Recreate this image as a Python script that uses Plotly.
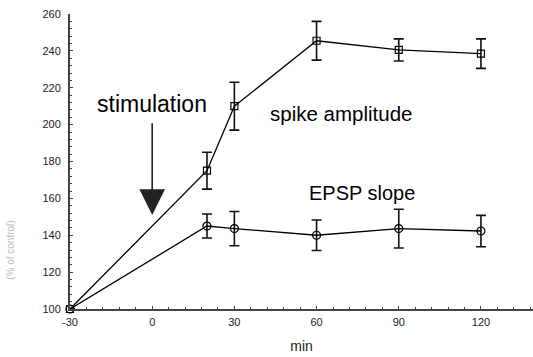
import plotly.graph_objects as go

minutes = [-30, 20, 30, 60, 90, 120]
spike_amp = [100, 175, 210, 245.5, 240.5, 238.5]
spike_err = [0, 10, 13, 10.5, 6, 8]
epsp_slope = [100, 145, 143.6, 140, 143.6, 142.3]
epsp_err = [0, 6.5, 9.3, 8.3, 10.5, 8.5]

x_ticks = [-30, 0, 30, 60, 90, 120]
x_labels = ["-30", "0", "30", "60", "90", "120"]
y_ticks = [100, 120, 140, 160, 180, 200, 220, 240, 260]

FONT = "Liberation Sans, Arial"

fig = go.Figure()

fig.add_trace(go.Scatter(
    x=minutes, y=epsp_slope, mode="lines+markers",
    line=dict(color="black", width=1.3),
    marker=dict(symbol="circle-open", size=8, color="black", line=dict(width=1.2)),
    error_y=dict(type="data", array=epsp_err, color="#111", thickness=1.6, width=5),
    showlegend=False, cliponaxis=False,
))
fig.add_trace(go.Scatter(
    x=minutes, y=spike_amp, mode="lines+markers",
    line=dict(color="black", width=1.3),
    marker=dict(symbol="square-open", size=7, color="black", line=dict(width=1.2)),
    error_y=dict(type="data", array=spike_err, color="#111", thickness=1.6, width=5),
    showlegend=False, cliponaxis=False,
))

fig.add_annotation(x=0, y=211, text="stimulation", showarrow=False,
                   font=dict(size=23, color="black", family=FONT))
fig.add_annotation(x=0, y=151, ax=0, ay=201.5, axref="x", ayref="y",
                   xref="x", yref="y", text="", showarrow=True,
                   arrowhead=2, arrowsize=3.2, arrowwidth=1.6, arrowcolor="#222")
fig.add_annotation(x=69, y=205.8, text="spike amplitude", showarrow=False,
                   font=dict(size=20.5, color="black", family=FONT))
fig.add_annotation(x=76.5, y=163, text="EPSP slope", showarrow=False,
                   font=dict(size=20, color="black", family=FONT))
fig.add_annotation(x=-0.13, y=0.2, xref="paper", yref="paper",
                   xanchor="center", yanchor="middle",
                   text="(% of control)", showarrow=False, textangle=-90,
                   font=dict(size=10, color="#bbb", family=FONT))

fig.update_layout(
    width=533, height=357,
    margin=dict(l=70, r=0, t=14, b=48),
    plot_bgcolor="white", paper_bgcolor="white",
    font=dict(family=FONT, size=11, color="#222"),
    xaxis=dict(
        range=[-30, 139], tickvals=x_ticks, ticktext=x_labels,
        showgrid=False, zeroline=False,
        showline=True, linecolor="#444", linewidth=2,
        ticks="inside", ticklen=3, tickwidth=1, tickcolor="#444",
        ticklabelstandoff=2,
        minor=dict(dtick=6, tick0=0, ticks="inside", ticklen=2, tickcolor="#444"),
        title=dict(text="min", font=dict(size=14, color="#222"), standoff=14),
        tickfont=dict(size=11),
    ),
    yaxis=dict(
        range=[100, 260], tickvals=y_ticks, showgrid=False, zeroline=False,
        showline=True, linecolor="#444", linewidth=2,
        ticks="inside", ticklen=3, tickwidth=1, tickcolor="#444",
        ticklabelstandoff=5,
        minor=dict(dtick=4, tick0=0, ticks="inside", ticklen=2, tickcolor="#444"),
        tickfont=dict(size=11),
    ),
)

fig.write_html("out.html")
